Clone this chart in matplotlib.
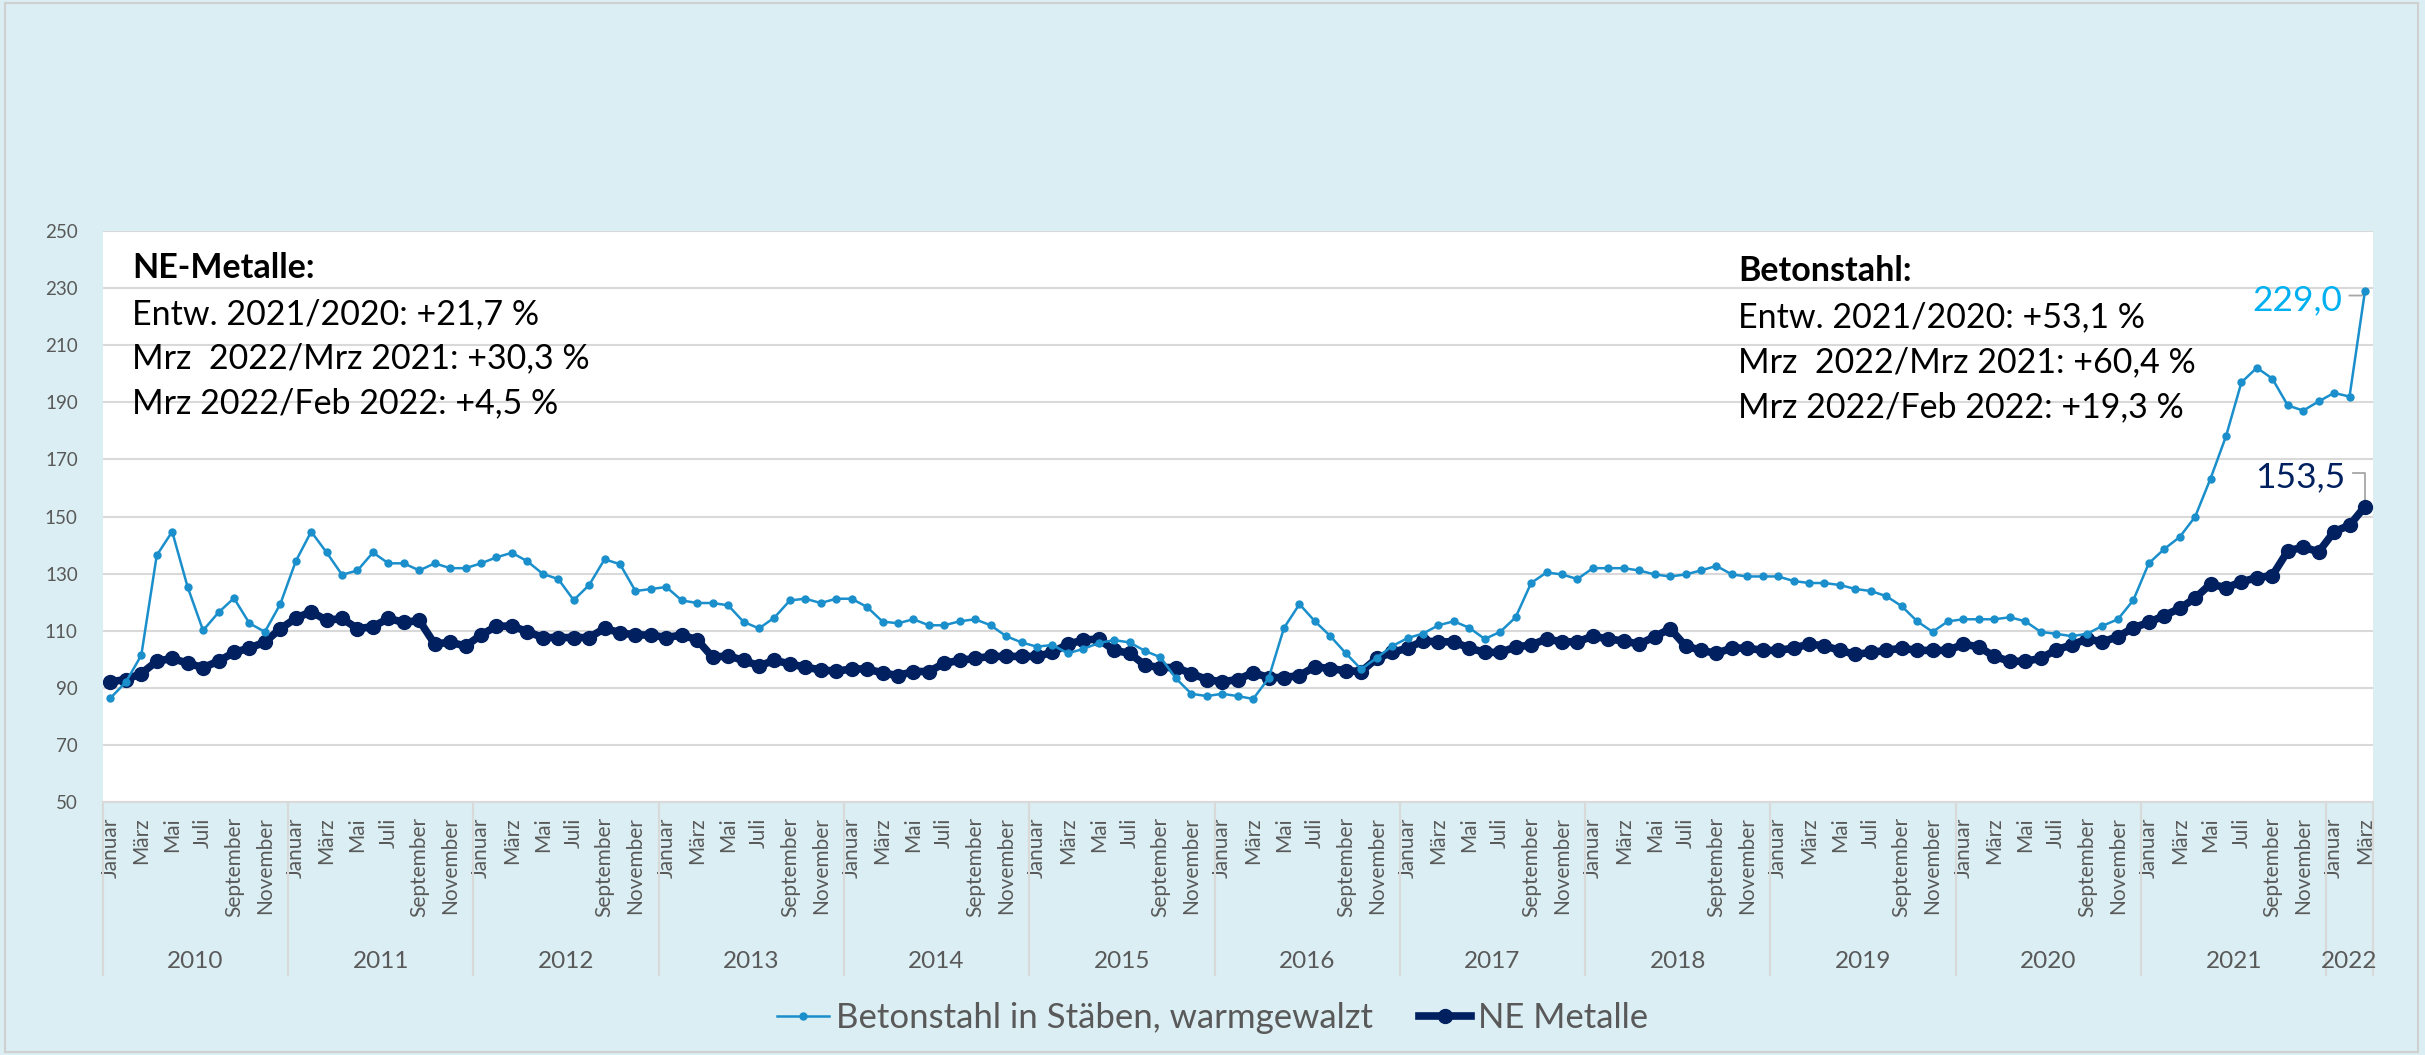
import matplotlib.pyplot as plt
from matplotlib.transforms import blended_transform_factory
from matplotlib.patches import Rectangle

# -------------------------------
# DATA
# -------------------------------
years = [2010, 2011, 2012, 2013, 2014, 2015, 2016, 2017, 2018, 2019, 2020, 2021, 2022]
months_per_year = [12, 12, 12, 12, 12, 12, 12, 12, 12, 12, 12, 12, 3]
months = ["Januar", "Februar", "März", "April", "Mai", "Juni", "Juli",
          "August", "September", "Oktober", "November", "Dezember"]

# Betonstahl in Stäben, warmgewalzt (Jan 2010 - Mrz 2022)
betonstahl = [
    86.4, 92.0, 101.4, 136.4, 144.7, 125.3, 110.1, 116.4, 121.4, 112.6, 109.6, 119.3,
    134.3, 144.7, 137.4, 129.6, 131.1, 137.4, 133.6, 133.6, 131.1, 133.6, 131.9, 131.9,
    133.6, 135.7, 137.3, 134.3, 129.9, 128.1, 120.7, 126.0, 135.0, 133.3, 123.9, 124.6,
    125.3, 120.6, 119.7, 119.7, 118.9, 113.1, 110.8, 114.6, 120.6, 121.2, 119.7, 121.2,
    121.2, 118.3, 113.2, 112.6, 114.0, 111.9, 111.9, 113.3, 114.0, 111.9, 108.1, 105.9,
    104.4, 105.0, 102.1, 103.6, 105.7, 106.7, 105.9, 102.9, 100.7, 93.3, 87.9, 87.1,
    87.9, 87.1, 86.1, 93.3, 111.0, 119.3, 113.3, 108.1, 102.1, 96.5, 100.5, 104.6,
    107.4, 109.0, 111.9, 113.3, 111.0, 107.1, 109.6, 114.7, 126.7, 130.4, 129.7, 128.1,
    131.9, 131.9, 131.9, 131.1, 129.7, 129.0, 129.7, 131.1, 132.7, 129.7, 129.0, 129.0,
    129.0, 127.4, 126.7, 126.7, 126.0, 124.6, 123.9, 122.1, 118.6, 113.3, 109.6, 113.3,
    114.0, 114.0, 114.0, 114.7, 113.3, 109.6, 108.9, 108.1, 108.9, 111.7, 114.0, 120.7,
    133.6, 138.6, 142.8, 149.9, 163.3, 178.1, 197.0, 202.1, 198.3, 188.9, 187.1, 190.3,
    193.3, 192.0, 229.0,
]

# NE Metalle (Jan 2010 - Mrz 2022)
ne_metalle = [
    92.1, 92.9, 95.0, 99.3, 100.3, 98.6, 97.1, 99.3, 102.4, 103.9, 106.0, 110.7,
    114.3, 116.7, 113.6, 114.3, 110.7, 111.4, 114.3, 112.9, 113.6, 105.3, 106.0, 104.6,
    108.5, 111.6, 111.6, 109.7, 107.6, 107.6, 107.6, 107.6, 110.8, 109.3, 108.5, 108.5,
    107.6, 108.5, 106.8, 100.7, 101.2, 99.6, 97.7, 99.6, 98.4, 97.2, 96.3, 95.8,
    96.6, 96.6, 95.2, 94.3, 95.7, 95.7, 98.6, 99.6, 100.3, 101.0, 101.0, 101.0,
    101.0, 102.4, 105.3, 106.7, 107.1, 103.1, 102.1, 97.9, 97.1, 97.1, 95.0, 92.9,
    92.1, 92.9, 95.3, 93.6, 93.6, 94.3, 97.4, 96.7, 96.0, 95.7, 100.3, 102.4,
    103.9, 106.4, 106.1, 106.1, 103.9, 102.4, 102.4, 104.3, 105.0, 107.1, 106.1, 106.1,
    108.1, 107.1, 106.4, 105.3, 107.9, 110.7, 104.7, 103.1, 102.1, 103.9, 103.9, 103.1,
    103.1, 103.9, 105.3, 104.7, 103.1, 101.7, 102.4, 103.1, 103.9, 103.1, 103.1, 103.1,
    105.3, 104.3, 101.0, 99.3, 99.3, 100.3, 103.3, 105.0, 107.1, 106.1, 107.9, 111.0,
    112.9, 115.3, 117.8, 121.4, 126.4, 125.0, 127.1, 128.6, 129.3, 137.9, 139.3, 137.6,
    144.7, 146.9, 153.5,
]

ne_text = ["Entw. 2021/2020: +21,7 %",
           "Mrz  2022/Mrz 2021: +30,3 %",
           "Mrz 2022/Feb 2022: +4,5 %"]
bst_text = ["Entw. 2021/2020: +53,1 %",
            "Mrz  2022/Mrz 2021: +60,4 %",
            "Mrz 2022/Feb 2022: +19,3 %"]

# -------------------------------
# STYLE
# -------------------------------
plt.rcParams['font.family'] = ['Lato', 'DejaVu Sans']
bg = '#DAEEF3'
grey_txt = '#595959'
grid_col = '#D9D9D9'
light = '#1A8FCB'
dark = '#002060'

n = len(betonstahl)
x = list(range(n))

fig = plt.figure(figsize=(24.25, 10.55), dpi=100, facecolor=bg)
ax = fig.add_axes([0.04235, 0.23981, 0.93608, 0.54123])
ax.set_facecolor('white')

# -------------------------------
# LINES
# -------------------------------
l_ne, = ax.plot(x, ne_metalle, color=dark, lw=5.5, marker='o', ms=10,
                solid_joinstyle='round', label='NE Metalle', zorder=3)
l_bst, = ax.plot(x, betonstahl, color=light, lw=1.8, marker='o', ms=5,
                 label='Betonstahl in Stäben, warmgewalzt', zorder=4)

ax.set_xlim(-0.5, n - 0.5)
ax.set_ylim(50, 250)
ax.set_yticks(range(50, 251, 20))
ax.grid(axis='y', color=grid_col, lw=1.5)
ax.set_axisbelow(True)
for s in ax.spines.values():
    s.set_visible(False)

# month ticks: every second month
tick_pos = [i for i in x if (i % 12) % 2 == 0]
ax.set_xticks(tick_pos)
ax.set_xticklabels([months[i % 12] for i in tick_pos], rotation=90)
ax.tick_params(axis='x', length=0, pad=11, labelsize=15, labelcolor=grey_txt)
ax.tick_params(axis='y', length=0, pad=18, labelsize=13.5, labelcolor=grey_txt)

# year separators + labels
trans = blended_transform_factory(ax.transData, ax.transAxes)
start = 0
ax.plot([-0.5, -0.5], [0, -0.303], transform=trans, color=grid_col, lw=1.5, clip_on=False)
for yr, cnt in zip(years, months_per_year):
    end = start + cnt
    ax.plot([end - 0.5, end - 0.5], [0, -0.303], transform=trans,
            color=grid_col, lw=1.5, clip_on=False)
    ax.text((start + end - 1) / 2, -0.2785, str(yr), transform=trans,
            ha='center', va='center', fontsize=17.5, color=grey_txt)
    start = end
ax.plot([-0.5, n - 0.5], [0, 0], transform=trans, color=grid_col, lw=1.5, clip_on=False)

# -------------------------------
# ANNOTATIONS
# -------------------------------
ax.text(1.4, 233.5, "NE-Metalle:", fontsize=24.5, fontweight='bold', va='baseline')
for k, t in enumerate(ne_text):
    ax.text(1.4, 217.5 - k * 15.7, t, fontsize=24.5, va='baseline')

ax.text(105.4, 232.5, "Betonstahl:", fontsize=24.5, fontweight='bold', va='baseline')
for k, t in enumerate(bst_text):
    ax.text(105.4, 216.3 - k * 15.7, t, fontsize=24.5, va='baseline')

# end value labels
ax.text(144.5, 222.3, "229,0", fontsize=25.5, color='#00B0F0', ha='right', va='baseline')
ax.plot([145.0, 145.8, n - 1], [227.4, 227.4, betonstahl[-1]], color='#A6A6A6', lw=1.3, zorder=2)
ax.text(144.7, 160.3, "153,5", fontsize=25.5, color=dark, ha='right', va='baseline')
ax.plot([145.25, n - 1, n - 1], [165.2, 165.2, ne_metalle[-1] + 2], color='#A6A6A6', lw=1.3, zorder=2)

# -------------------------------
# LEGEND + BORDER
# -------------------------------
fig.legend([l_bst, l_ne], [l_bst.get_label(), l_ne.get_label()],
           loc='center', bbox_to_anchor=(0.5, 1 - 1018 / 1055), ncol=2,
           frameon=False, fontsize=25, labelcolor=grey_txt,
           handlelength=1.5, columnspacing=1.3, handletextpad=0.2)

fig.patches.append(Rectangle((5 / 2425, 3 / 1055), 2413 / 2425, 1049 / 1055,
                             transform=fig.transFigure, fill=False,
                             edgecolor='#D0D0D0', lw=1.5))

fig.savefig("out.png", dpi=100, facecolor=bg)
